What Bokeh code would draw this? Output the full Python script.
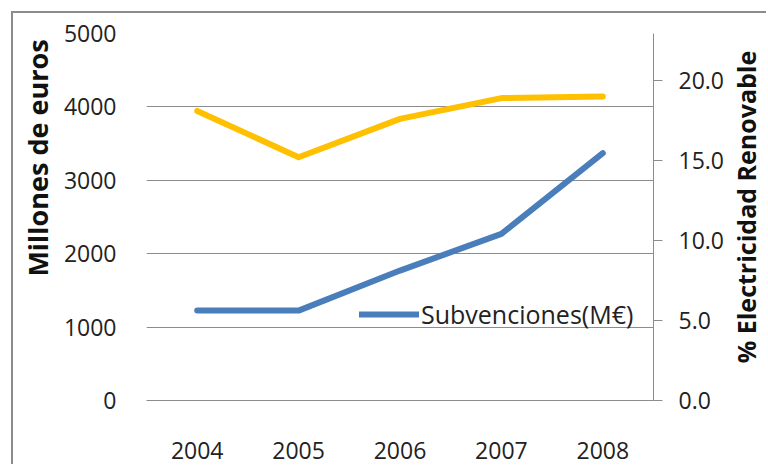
from bokeh.plotting import figure
from bokeh.models import (Range1d, LinearAxis, FixedTicker, PrintfTickFormatter,
                          Legend, LegendItem, FactorRange, Label)
from bokeh.embed import file_html
from bokeh.resources import INLINE

years = ["2004", "2005", "2006", "2007", "2008"]
subvenciones = [1225, 1225, 1770, 2270, 3370]
renovable = [18.1, 15.2, 17.6, 18.9, 19.0]
left_ticks = [0, 1000, 2000, 3000, 4000, 5000]
right_ticks = [0, 5, 10, 15, 20]
left_title = "Millones de  euros"
right_title = "% Electricidad Renovable"
legend_label = "Subvenciones(M€)"

FONT = "Open Sans"
GRAY = "#8c8c8c"

p = figure(width=755, height=453,
           x_range=FactorRange(factors=years, range_padding=0),
           y_range=Range1d(0, 5000),
           output_backend="svg", toolbar_location=None,
           min_border_left=133, min_border_right=115,
           min_border_top=20, min_border_bottom=66)
p.styles = {"margin-left": "11px", "margin-top": "11px",
            "border-left": "2px solid #8c8c8c", "border-top": "2px solid #8c8c8c"}
p.extra_y_ranges = {"pct": Range1d(0, 22.9375)}
p.outline_line_color = None
p.background_fill_color = "white"
p.border_fill_color = "white"

# grids
p.xgrid.grid_line_color = None
p.ygrid.ticker = FixedTicker(ticks=left_ticks)
p.ygrid.grid_line_color = GRAY
p.ygrid.grid_line_width = 1

# left axis
ax = p.yaxis[0]
ax.ticker = FixedTicker(ticks=left_ticks)
ax.axis_line_color = None
ax.major_tick_line_color = None
ax.minor_tick_line_color = None
ax.major_label_standoff = 24
ax.major_label_text_font = FONT
ax.major_label_text_font_size = "23px"
ax.major_label_text_color = "#222222"

# bottom axis
bx = p.xaxis[0]
bx.axis_line_color = GRAY
bx.major_tick_line_color = None
bx.minor_tick_line_color = None
bx.major_label_standoff = 35
bx.major_label_text_font = FONT
bx.major_label_text_font_size = "23px"
bx.major_label_text_color = "#222222"

# right axis
rax = LinearAxis(y_range_name="pct", ticker=FixedTicker(ticks=right_ticks),
                 formatter=PrintfTickFormatter(format="%.1f"))
rax.axis_line_color = GRAY
rax.major_tick_line_color = GRAY
rax.major_tick_in = 0
rax.major_tick_out = 9
rax.minor_tick_line_color = None
rax.major_label_standoff = 16
rax.major_label_text_align = "left"
rax.major_label_text_font = FONT
rax.major_label_text_font_size = "23px"
rax.major_label_text_color = "#222222"
p.add_layout(rax, "right")

# axis titles as labels in the side panels (both read bottom-to-top)
p.add_layout(Label(x=13.5, y=246, x_units="screen", y_units="screen",
                   text=left_title, angle=90, angle_units="deg",
                   text_align="center", text_baseline="middle",
                   text_font=FONT, text_font_size="27px", text_font_style="bold",
                   text_color="#111111"), "left")
p.add_layout(Label(x=19, y=193.5, x_units="screen", y_units="screen",
                   text=right_title, angle=90, angle_units="deg",
                   text_align="center", text_baseline="middle",
                   text_font=FONT, text_font_size="25px", text_font_style="bold",
                   text_color="#111111"), "right")

# lines
p.line(years, renovable, y_range_name="pct", line_color="#FFC000",
       line_width=6, line_cap="round", line_join="round")
r_sub = p.line(years, subvenciones, line_color="#4A7EBB",
               line_width=6, line_cap="round", line_join="round")

legend = Legend(items=[LegendItem(label=legend_label, renderers=[r_sub])],
                location=(213, 69), orientation="vertical",
                border_line_color=None, background_fill_alpha=0,
                padding=0, margin=0, spacing=0,
                glyph_width=60, glyph_height=28, label_height=28,
                label_standoff=2, label_text_font=FONT,
                label_text_font_size="25px", label_text_color="#222222")
p.add_layout(legend)

open("out.html", "w").write(file_html(p, INLINE))
